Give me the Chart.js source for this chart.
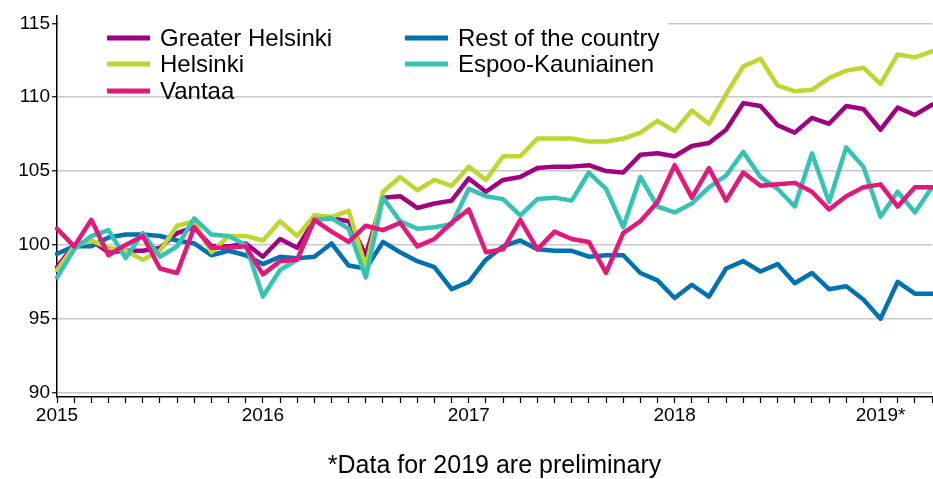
<!DOCTYPE html>
<html>
<head>
<meta charset="utf-8">
<style>
  html, body { margin: 0; padding: 0; background: #fff; }
  #wrap { width: 933px; height: 479px; }
</style>
</head>
<body>
<div id="wrap"><canvas id="chart" width="933" height="479"></canvas></div>
<script src="https://cdn.jsdelivr.net/npm/chart.js@4/dist/chart.umd.min.js"></script>
<script>
// monthly index values, Jan 2015 .. Apr 2019
const months = [
  '2015-01','2015-02','2015-03','2015-04','2015-05','2015-06','2015-07','2015-08','2015-09','2015-10','2015-11','2015-12',
  '2016-01','2016-02','2016-03','2016-04','2016-05','2016-06','2016-07','2016-08','2016-09','2016-10','2016-11','2016-12',
  '2017-01','2017-02','2017-03','2017-04','2017-05','2017-06','2017-07','2017-08','2017-09','2017-10','2017-11','2017-12',
  '2018-01','2018-02','2018-03','2018-04','2018-05','2018-06','2018-07','2018-08','2018-09','2018-10','2018-11','2018-12',
  '2019-01','2019-02','2019-03','2019-04'
];
const yearLabels = ['2015', '2016', '2017', '2018', '2019*'];
const yTicks = [90, 95, 100, 105, 110, 115];
const footnote = '*Data for 2019 are preliminary';

const greaterHelsinki = [
  98.5, 100.0, 100.3, 99.5, 99.6, 99.6, 99.8, 100.8, 101.2, 99.9, 99.9, 100.1,
  99.2, 100.4, 99.8, 101.7, 101.8, 101.6, 99.3, 103.2, 103.3, 102.5, 102.8, 103.0,
  104.5, 103.6, 104.4, 104.6, 105.2, 105.3, 105.3, 105.4, 105.0, 104.9, 106.1, 106.2,
  106.0, 106.7, 106.9, 107.8, 109.6, 109.4, 108.1, 107.6, 108.6, 108.2, 109.4, 109.2,
  107.8, 109.3, 108.8, 109.5
];
const helsinki = [
  98.3, 99.9, 100.3, 99.8, 99.6, 99.0, 99.6, 101.3, 101.6, 99.5, 100.6, 100.6,
  100.3, 101.6, 100.6, 102.0, 101.9, 102.3, 98.5, 103.6, 104.6, 103.7, 104.4, 104.0,
  105.3, 104.4, 106.0, 106.0, 107.2, 107.2, 107.2, 107.0, 107.0, 107.2, 107.6, 108.4,
  107.7, 109.1, 108.2, 110.2, 112.1, 112.6, 110.8, 110.4, 110.5, 111.3, 111.8, 112.0,
  110.9, 112.9, 112.7, 113.1
];
const vantaa = [
  101.1, 99.9, 101.7, 99.3, 100.0, 100.6, 98.4, 98.1, 101.2, 99.8, 99.8, 99.9,
  98.0, 98.9, 99.0, 101.7, 100.9, 100.2, 101.3, 101.0, 101.5, 99.9, 100.4, 101.5,
  102.4, 99.5, 99.7, 101.7, 99.7, 100.9, 100.4, 100.2, 98.1, 100.8, 101.6, 102.9,
  105.4, 103.2, 105.2, 103.0, 104.9, 104.0, 104.1, 104.2, 103.6, 102.4, 103.3, 103.9,
  104.1, 102.6, 103.9, 103.9
];
const restOfCountry = [
  99.4, 99.9, 99.9, 100.5, 100.7, 100.7, 100.6, 100.3, 100.1, 99.3, 99.6, 99.3,
  98.7, 99.2, 99.1, 99.2, 100.1, 98.6, 98.4, 100.2, 99.5, 98.9, 98.5, 97.0,
  97.5, 99.0, 99.9, 100.3, 99.7, 99.6, 99.6, 99.2, 99.3, 99.3, 98.1, 97.6,
  96.4, 97.3, 96.5, 98.4, 98.9, 98.2, 98.7, 97.4, 98.1, 97.0, 97.2, 96.3,
  95.0, 97.5, 96.7, 96.7
];
const espooKauniainen = [
  97.8, 99.7, 100.6, 101.0, 99.1, 100.8, 99.2, 99.9, 101.8, 100.7, 100.6, 100.0,
  96.5, 98.3, 99.0, 101.7, 101.8, 101.1, 97.8, 103.2, 101.6, 101.1, 101.2, 101.4,
  103.8, 103.3, 103.1, 102.0, 103.1, 103.2, 103.0, 104.9, 103.8, 101.2, 104.6, 102.6,
  102.2, 102.8, 103.9, 104.7, 106.3, 104.6, 103.8, 102.6, 106.2, 102.9, 106.6, 105.3,
  101.9, 103.6, 102.2, 103.9
];

const FONT = '"Liberation Sans", Arial, sans-serif';

// legend in two columns on a white box, like the original
const legendBox = {
  id: 'legendBox',
  afterDatasetsDraw(chart) {
    const ctx = chart.ctx;
    const cols = [107, 405];
    const rows = [38, 64, 91];
    const slots = [[0, 0], [1, 0], [0, 1], [1, 1], [0, 2]];
    ctx.save();
    ctx.fillStyle = '#fff';
    ctx.fillRect(59, 14, 609, 82);
    ctx.font = '24px ' + FONT;
    ctx.textBaseline = 'middle';
    chart.data.datasets.forEach((ds, i) => {
      const x = cols[slots[i][0]];
      const y = rows[slots[i][1]];
      ctx.strokeStyle = ds.borderColor;
      ctx.lineWidth = 5;
      ctx.beginPath();
      ctx.moveTo(x, y);
      ctx.lineTo(x + 43, y);
      ctx.stroke();
      ctx.fillStyle = '#000';
      ctx.fillText(ds.label, x + 53, y + 1);
    });
    ctx.restore();
  }
};

new Chart(document.getElementById('chart'), {
  type: 'line',
  data: {
    labels: months,
    datasets: [
      { label: 'Greater Helsinki', data: greaterHelsinki, borderColor: '#a10080', order: 4 },
      { label: 'Rest of the country', data: restOfCountry, borderColor: '#0072b2', order: 3 },
      { label: 'Helsinki', data: helsinki, borderColor: '#bed630', order: 2 },
      { label: 'Espoo-Kauniainen', data: espooKauniainen, borderColor: '#35c3b5', order: 1 },
      { label: 'Vantaa', data: vantaa, borderColor: '#e4177a', order: 0 }
    ]
  },
  options: {
    responsive: false,
    animation: false,
    layout: { padding: { top: 16, right: 0, left: 0, bottom: 0 } },
    elements: {
      point: { radius: 0 },
      line: { tension: 0, borderWidth: 4.5, borderJoinStyle: 'round', borderCapStyle: 'round', fill: false }
    },
    plugins: {
      legend: { display: false },
      tooltip: { enabled: false },
      title: {
        display: true,
        position: 'bottom',
        fullSize: false,
        text: footnote,
        color: '#000',
        font: { family: FONT, size: 25, weight: 'normal', lineHeight: 1 },
        padding: { top: 14, bottom: 0 }
      }
    },
    scales: {
      x: {
        offset: false,
        grid: { drawOnChartArea: false, tickLength: 6, tickColor: '#000', tickWidth: 1.2 },
        border: { color: '#000', width: 1.5 },
        ticks: {
          autoSkip: false,
          maxRotation: 0,
          padding: 1,
          color: '#000',
          font: { family: FONT, size: 19 },
          callback: (v, i) => (i % 12 === 0 ? yearLabels[i / 12] : '')
        },
        afterFit: s => { s.height = 43; }
      },
      y: {
        min: 89.7,
        max: 115.5,
        afterBuildTicks: s => { s.ticks = yTicks.map(v => ({ value: v })); },
        grid: { color: '#c8c8c8', lineWidth: 1.5, tickLength: 5, tickColor: '#000', tickWidth: 1.2 },
        border: { color: '#000', width: 1.5 },
        ticks: { color: '#000', padding: 2, font: { family: FONT, size: 19 } },
        afterFit: s => { s.width = 57; }
      }
    }
  },
  plugins: [legendBox]
});
</script>
</body>
</html>
